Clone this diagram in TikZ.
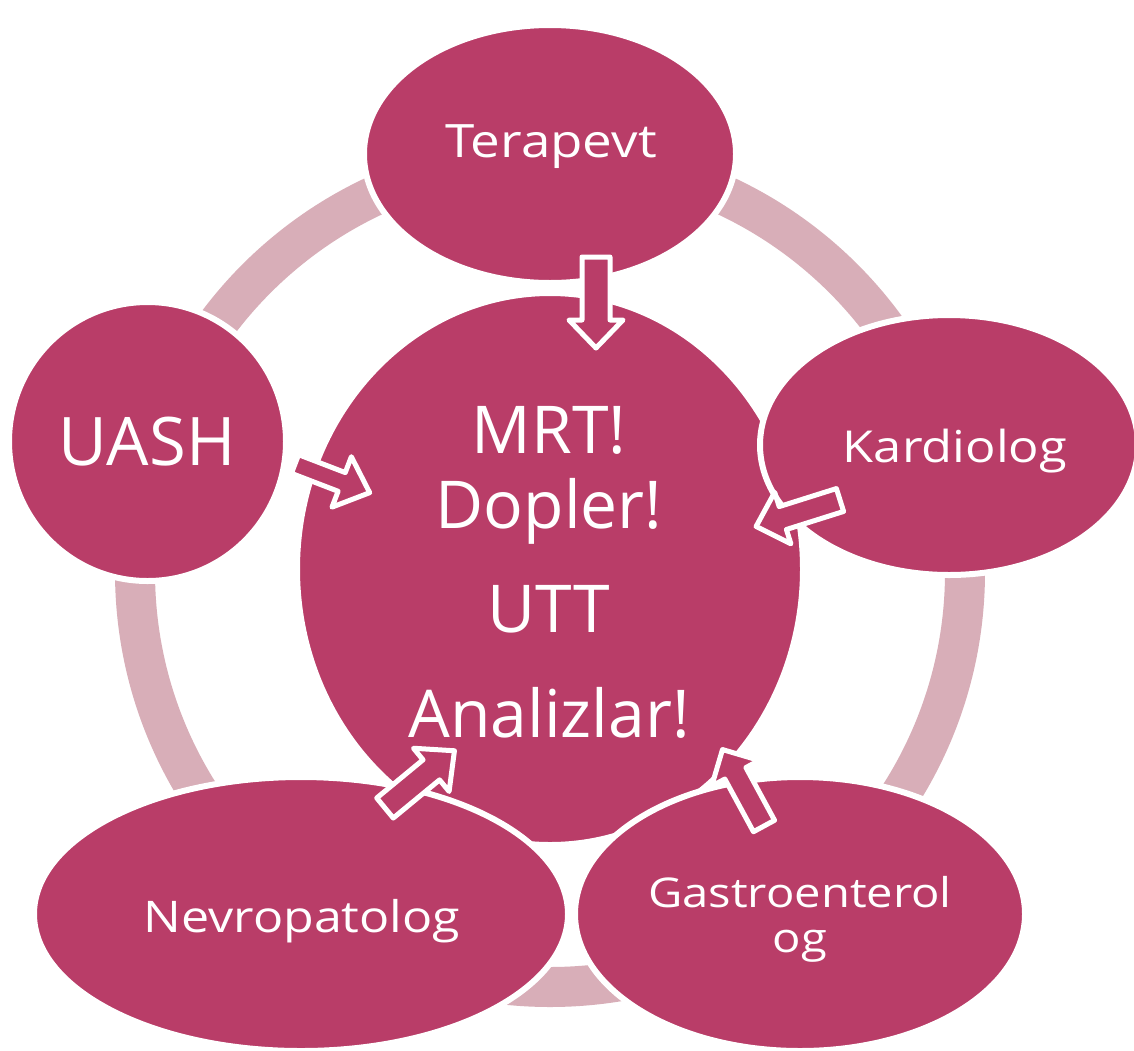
\documentclass[tikz,border=0pt]{standalone}
\usepackage{fontspec}
\setmainfont{Open Sans}[FakeStretch=1.15]
\newfontfamily\plainfont{Open Sans}
\usetikzlibrary{shapes.geometric}
\definecolor{mag}{RGB}{185,61,104}
\definecolor{ringc}{RGB}{216,174,184}
\tikzset{
  blob/.style={ellipse, fill=mag, draw=white, line width=3pt, inner sep=0pt},
  lbl/.style={text=white, inner sep=0pt},
  barrow/.style={fill=mag, draw=white, line width=2.5pt, line join=round},
  pics/blockarrow/.style args={#1/#2/#3/#4}{code={
    \draw[barrow] (0,-#4) -- (#1-#2,-#4) -- (#1-#2,-#3) -- (#1,0)
      -- (#1-#2,#3) -- (#1-#2,#4) -- (0,#4) -- cycle;}}
}
\begin{document}
\begin{tikzpicture}[x=0.5pt,y=-0.5pt]
\useasboundingbox (0,0) rectangle (1134,1050);
\fill[white] (0,0) rectangle (1134,1050);
% ring
\draw[ringc, line width=20pt] (550,572) circle[radius=415];
% shapes
\node[blob, minimum width=253pt, minimum height=276pt] (cen) at (550,569) {};
\node[blob, minimum width=186pt, minimum height=129pt] (ter) at (550,154) {};
\node[blob, minimum width=189pt, minimum height=130pt] (kar) at (949,445) {};
\node[blob, minimum width=138.5pt, minimum height=139.5pt] (uash) at (147.5,441.5) {};
\node[blob, minimum width=267pt, minimum height=137pt] (nev) at (301,914) {};
\node[blob, minimum width=225pt, minimum height=137pt] (gas) at (800,914) {};
% arrows
\pic[rotate=-90] at (596,257) {blockarrow=91/28/27/14};
\pic[rotate=-21] at (295,464) {blockarrow=80/30/27/10};
\pic[rotate=39.5] at (385,808) {blockarrow=90/30/28/13};
\pic[rotate=118.5] at (764,826) {blockarrow=87/27/27/12};
\pic[rotate=197.5] at (840,500) {blockarrow=88/28/27/12};
% texts
\node[lbl, anchor=base, font=\fontsize{23}{27}\selectfont] (tter) at (551,157) {Terapevt};
\node[lbl, anchor=base, font=\fontsize{22}{27}\selectfont] (tkar) at (955,462) {Kardiolog};
\node[lbl, anchor=base, font=\plainfont\fontsize{33.5}{40}\selectfont] (tuash) at (147,465) {UASH};
\node[lbl, anchor=base, font=\fontsize{21.8}{27}\selectfont] (tnev) at (302,932) {Nevropatolog};
\node[lbl, anchor=base, align=center, font=\fontsize{20.5}{22.5}\selectfont] (tgas) at (800,952) {Gastroenterol\\og};
\node[lbl, anchor=base, align=center, font=\plainfont\fontsize{33}{37.5}\selectfont] (tcen) at (549,737) {MRT!\\Dopler!\\[14.5pt]UTT\\[15pt]Analizlar!};
\end{tikzpicture}
\end{document}
